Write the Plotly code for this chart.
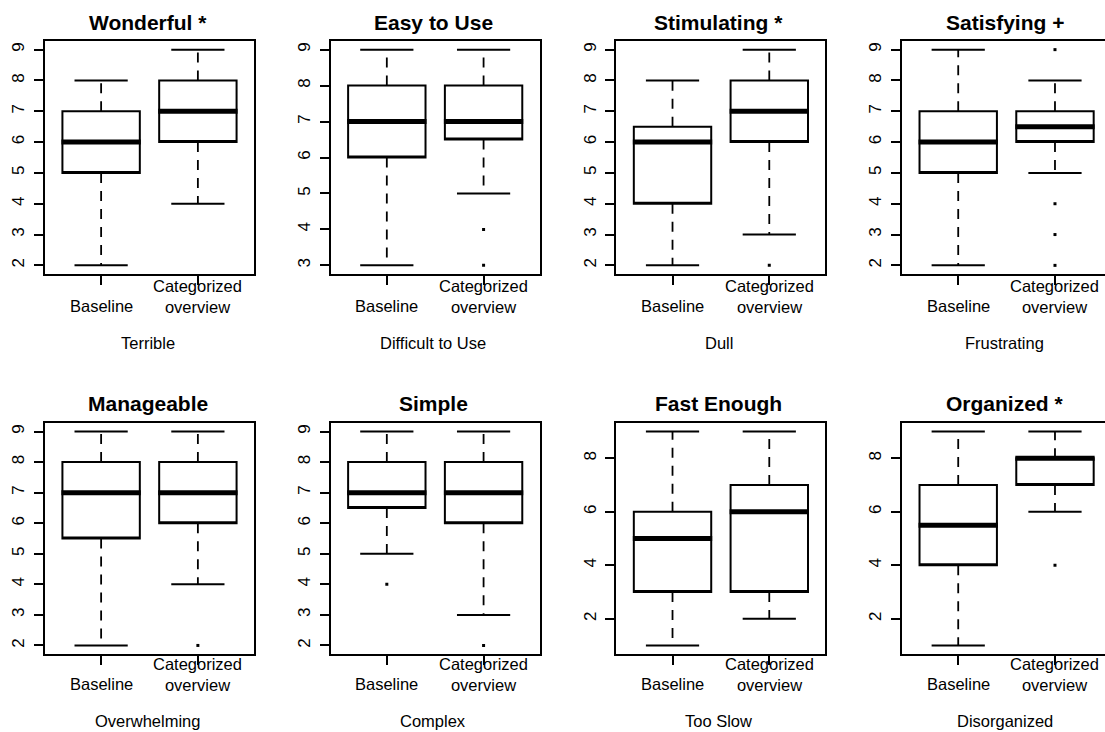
import plotly.graph_objects as go

# ---------------- data ----------------
titles = ["Wonderful *", "Easy to Use", "Stimulating *", "Satisfying +",
          "Manageable", "Simple", "Fast Enough", "Organized *"]
opposites = ["Terrible", "Difficult to Use", "Dull", "Frustrating",
             "Overwhelming", "Complex", "Too Slow", "Disorganized"]
groups = ["Baseline", "Categorized<br>overview"]

base_low = [2, 3, 2, 2, 2, 5, 1, 1]
base_q1 = [5, 6, 4, 5, 5.5, 6.5, 3, 4]
base_med = [6, 7, 6, 6, 7, 7, 5, 5.5]
base_q3 = [7, 8, 6.5, 7, 8, 8, 6, 7]
base_high = [8, 9, 8, 9, 9, 9, 9, 9]
base_out = [[], [], [], [], [], [4], [], []]

cat_low = [4, 5, 3, 5, 4, 3, 2, 6]
cat_q1 = [6, 6.5, 6, 6, 6, 6, 3, 7]
cat_med = [7, 7, 7, 6.5, 7, 7, 6, 8]
cat_q3 = [8, 8, 8, 7, 8, 8, 7, 8]
cat_high = [9, 9, 9, 8, 9, 9, 9, 9]
cat_out = [[], [4, 3], [2], [9, 4, 3, 2], [2], [2], [], [4]]

# ---------------- layout geometry (pixels) ----------------
W, H = 1105, 732
FONT = "Liberation Sans, Arial, sans-serif"
col_left = [45 + i * 285.7 for i in range(4)]
panel_w = 209
row_top = [41, 423]
row_bot = [274, 654]
xlab_y = [305.5, 684]
sub_y = [343, 721]
title_y = [22, 404]
XR = (0.42, 2.58)
ppu = panel_w / (XR[1] - XR[0])

BOX_W = 0.8
CAP_W = 0.55
MED_W = 0.82

fig = go.Figure()
annotations = []
layout_axes = {}

for k in range(8):
    r, c = divmod(k, 4)
    xa = "x" if k == 0 else f"x{k+1}"
    ya = "y" if k == 0 else f"y{k+1}"
    left = col_left[c]
    right = min(left + panel_w, W)
    xrange_hi = XR[0] + (right - left) / ppu

    stats = [
        (base_low[k], base_q1[k], base_med[k], base_q3[k], base_high[k], base_out[k]),
        (cat_low[k], cat_q1[k], cat_med[k], cat_q3[k], cat_high[k], cat_out[k]),
    ]
    allv = []
    for s in stats:
        allv += [s[0], s[4]] + list(s[5])
    lo, hi = min(allv), max(allv)
    span = hi - lo
    yr = [lo - 0.04 * span, hi + 0.04 * span]
    dt = 1 if span <= 7 else 2
    tv = [v for v in range(int(lo), int(hi) + 1) if v % dt == 0]

    for gi, (lw, q1, med, q3, hw, outs) in enumerate(stats):
        pos = gi + 1
        # box body
        fig.add_trace(go.Box(
            x=[pos], q1=[q1], median=[q1], q3=[q3], lowerfence=[q1], upperfence=[q3],
            width=BOX_W, fillcolor="white", line=dict(color="black", width=2),
            boxpoints=False, hoverinfo="skip", showlegend=False,
            xaxis=xa, yaxis=ya))
        # whiskers (dashed)
        for a, b in ((q3, hw), (q1, lw)):
            fig.add_trace(go.Scatter(
                x=[pos, pos], y=[a, b], mode="lines",
                line=dict(color="black", width=1.8, dash="10px,8px"),
                hoverinfo="skip", showlegend=False, xaxis=xa, yaxis=ya))
        # caps
        for v in (hw, lw):
            fig.add_trace(go.Scatter(
                x=[pos - CAP_W / 2, pos + CAP_W / 2], y=[v, v], mode="lines",
                line=dict(color="black", width=2),
                hoverinfo="skip", showlegend=False, xaxis=xa, yaxis=ya))
        # median
        fig.add_trace(go.Scatter(
            x=[pos - MED_W / 2, pos + MED_W / 2], y=[med, med], mode="lines",
            line=dict(color="black", width=5),
            hoverinfo="skip", showlegend=False, xaxis=xa, yaxis=ya))
        # outliers
        if outs:
            fig.add_trace(go.Scatter(
                x=[pos] * len(outs), y=outs, mode="markers",
                marker=dict(color="black", size=3, symbol="square"),
                hoverinfo="skip", showlegend=False, xaxis=xa, yaxis=ya))
        # group labels
        annotations.append(dict(
            x=pos, xref=xa, y=1 - xlab_y[r] / H, yref="paper",
            text=groups[gi], showarrow=False, xanchor="center",
            yanchor="middle", yshift=0 if gi == 0 else 9.5,
            font=dict(family=FONT, size=16.5, color="black")))

    xname = "xaxis" if k == 0 else f"xaxis{k+1}"
    yname = "yaxis" if k == 0 else f"yaxis{k+1}"
    layout_axes[xname] = dict(
        domain=[left / W, right / W], range=[XR[0], xrange_hi], anchor=ya,
        showline=True, mirror=True, linecolor="black", linewidth=2,
        ticks="outside", ticklen=9, tickwidth=1.5, tickcolor="black",
        tickvals=[1, 2], showticklabels=False, showgrid=False, zeroline=False)
    layout_axes[yname] = dict(
        domain=[1 - row_bot[r] / H, 1 - row_top[r] / H], range=yr, anchor=xa,
        showline=True, mirror=(c != 3), linecolor="black", linewidth=2,
        ticks="outside", ticklen=9, tickwidth=1.5, tickcolor="black",
        tickvals=tv, tickangle=-90, ticklabelstandoff=3,
        tickfont=dict(family=FONT, size=17, color="black"),
        showgrid=False, zeroline=False)

    cx = (left + left + panel_w) / 2 / W
    annotations.append(dict(
        x=cx - 2 / W, xref="paper", y=1 - title_y[r] / H, yref="paper",
        text=titles[k], showarrow=False, xanchor="center", yanchor="middle",
        font=dict(family=FONT, size=21, color="black", weight="bold")))
    annotations.append(dict(
        x=cx - 2 / W, xref="paper", y=1 - sub_y[r] / H, yref="paper",
        text=opposites[k], showarrow=False, xanchor="center", yanchor="middle",
        font=dict(family=FONT, size=16.5, color="black")))

fig.update_layout(
    width=W, height=H, margin=dict(l=0, r=0, t=0, b=0),
    paper_bgcolor="white", plot_bgcolor="white",
    showlegend=False, annotations=annotations, **layout_axes)

fig.write_html(
    "out.html", config={"displayModeBar": False},
    post_script="document.body.style.margin='0';document.body.style.overflow='hidden';")
